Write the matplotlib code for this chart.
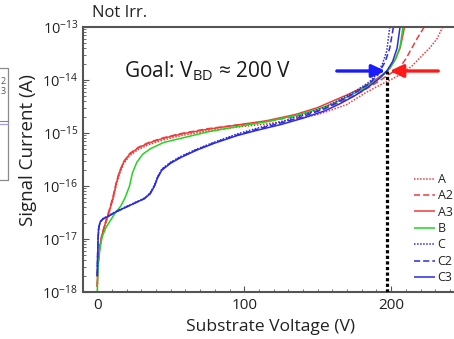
import numpy as np
import matplotlib
matplotlib.use("Agg")
import matplotlib.pyplot as plt
from matplotlib.lines import Line2D

plt.rcParams['font.family'] = ['Open Sans', 'DejaVu Sans']
plt.rcParams['mathtext.fontset'] = 'custom'
plt.rcParams['mathtext.rm'] = 'Open Sans'
plt.rcParams['mathtext.it'] = 'Open Sans:italic'
plt.rcParams['mathtext.bf'] = 'Open Sans:bold'

# --- I-V sweeps: substrate voltage (V) and log10 of signal current (A) ---
v_A = [0, 0.5, 1.5, 3, 5, 7, 9, 11, 13, 15, 18, 22, 28, 35, 45, 57, 75, 95,
       115, 135, 150, 160, 170, 182, 192, 200, 206, 214, 220, 226, 231, 235]
logi_A = [-17.9, -17.5, -17.22, -16.97, -16.77, -16.6, -16.42, -16.22, -15.98,
          -15.79, -15.58, -15.43, -15.31, -15.22, -15.13, -15.05, -14.96, -14.89,
          -14.83, -14.74, -14.65, -14.56, -14.46, -14.25, -14.1, -13.99, -13.9,
          -13.74, -13.57, -13.4, -13.23, -13.0]

v_A2 = [0, 0.5, 1.5, 3, 5, 7, 9, 11, 13, 15, 18, 22, 28, 35, 45, 57, 75, 95,
        115, 135, 150, 160, 170, 180, 190, 200, 206, 210, 214, 218, 220, 222.5]
logi_A2 = [-17.9, -17.48, -17.2, -16.95, -16.74, -16.56, -16.38, -16.17, -15.93,
           -15.74, -15.54, -15.39, -15.27, -15.18, -15.09, -15.01, -14.92, -14.85,
           -14.78, -14.69, -14.58, -14.48, -14.36, -14.22, -14.05, -13.87, -13.76,
           -13.6, -13.4, -13.2, -13.11, -13.0]

v_A3 = [0, 0.5, 1.5, 3, 5, 7, 9, 11, 13, 15, 18, 22, 28, 35, 45, 57, 75, 95,
        115, 135, 150, 160, 170, 180, 188, 194, 199, 203, 206, 208, 209]
logi_A3 = [-17.9, -17.5, -17.2, -16.95, -16.75, -16.58, -16.4, -16.2, -15.95,
           -15.75, -15.55, -15.4, -15.28, -15.19, -15.1, -15.02, -14.93, -14.85,
           -14.77, -14.65, -14.52, -14.4, -14.28, -14.15, -14.02, -13.9, -13.78,
           -13.6, -13.4, -13.15, -13.0]

v_B = [0, 0.5, 1, 2, 3.5, 6, 9, 12, 16, 19, 22, 24, 27, 31, 36, 45, 57, 75,
       95, 115, 135, 150, 160, 170, 180, 188, 194, 199, 203, 206, 208]
logi_B = [-18.05, -17.6, -17.4, -17.15, -16.95, -16.78, -16.65, -16.52, -16.38,
          -16.22, -16.0, -15.75, -15.55, -15.4, -15.3, -15.18, -15.1, -14.98,
          -14.88, -14.79, -14.67, -14.55, -14.45, -14.32, -14.18, -14.04, -13.92,
          -13.78, -13.6, -13.38, -13.0]

v_C = [0, 0.3, 0.6, 1, 2, 4, 7, 12, 18, 25, 32, 36, 39, 41, 44, 50, 57, 68,
       80, 95, 110, 125, 140, 155, 165, 175, 185, 190, 194, 197, 199]
logi_C = [-17.7, -17.3, -17.0, -16.8, -16.67, -16.61, -16.57, -16.49, -16.41,
          -16.32, -16.23, -16.13, -15.98, -15.83, -15.68, -15.55, -15.44, -15.3,
          -15.17, -15.02, -14.9, -14.79, -14.66, -14.51, -14.37, -14.22, -14.04,
          -13.9, -13.7, -13.45, -13.0]

v_C2 = [0, 0.3, 0.6, 1, 2, 4, 7, 12, 18, 25, 32, 36, 39, 41, 44, 50, 57, 68,
        80, 95, 110, 125, 140, 155, 165, 175, 185, 191, 196, 199, 201.5]
logi_C2 = [-17.7, -17.3, -17.0, -16.8, -16.68, -16.62, -16.58, -16.5, -16.42,
           -16.33, -16.24, -16.14, -15.99, -15.84, -15.69, -15.56, -15.45, -15.31,
           -15.18, -15.04, -14.92, -14.81, -14.69, -14.54, -14.4, -14.25, -14.07,
           -13.9, -13.65, -13.4, -13.0]

v_C3 = [0, 0.3, 0.6, 1, 2, 4, 7, 12, 18, 25, 32, 36, 39, 41, 44, 50, 57, 68,
        80, 95, 110, 125, 140, 155, 165, 175, 185, 192, 197, 201, 204, 206]
logi_C3 = [-17.7, -17.3, -17.0, -16.8, -16.68, -16.62, -16.58, -16.5, -16.42,
           -16.33, -16.24, -16.15, -16.0, -15.85, -15.7, -15.57, -15.46, -15.32,
           -15.19, -15.05, -14.94, -14.84, -14.72, -14.58, -14.45, -14.3, -14.12,
           -13.97, -13.83, -13.65, -13.4, -13.0]

series_labels = ['A', 'A2', 'A3', 'B', 'C', 'C2', 'C3']
series_v = [v_A, v_A2, v_A3, v_B, v_C, v_C2, v_C3]
series_logi = [logi_A, logi_A2, logi_A3, logi_B, logi_C, logi_C2, logi_C3]

goal_voltage = 197          # target breakdown marker
goal_level = -13.83         # log10 current where the arrows point

RED = '#f23a3a'
GREEN = '#1fd61f'
BLUE = '#2b2be6'
styles = {
    'A':  dict(color=RED, ls=(0, (1, 1))),
    'A2': dict(color=RED, ls=(0, (4, 2))),
    'A3': dict(color=RED, ls='-'),
    'B':  dict(color=GREEN, ls='-'),
    'C':  dict(color=BLUE, ls=(0, (1, 1))),
    'C2': dict(color=BLUE, ls=(0, (4, 2))),
    'C3': dict(color=BLUE, ls='-'),
}

W, H = 454, 339
fig = plt.figure(figsize=(W / 100, H / 100), dpi=100)

x0, x1 = -10, 250
ax_left, ax_right = 82.5, 82.5 + 1.47 * (x1 - x0)
ax_top, ax_bot = 27, 292
ax = fig.add_axes([ax_left / W, 1 - ax_bot / H,
                   (ax_right - ax_left) / W, (ax_bot - ax_top) / H])

for lab, v, li in zip(series_labels, series_v, series_logi):
    st = styles[lab]
    ax.plot(v, 10.0 ** np.array(li), color=st['color'], linestyle=st['ls'],
            lw=1.1, label=lab, solid_capstyle='butt')

ax.set_yscale('log')
ax.set_xlim(x0, x1)
ax.set_ylim(1e-18, 1e-13)

ax.set_xticks([0, 100, 200])
ax.set_xticks(np.arange(0, 250, 10), minor=True)
ax.set_yticks([10.0 ** e for e in range(-18, -12)])
ax.set_yticklabels(['10$^{%d}$' % e for e in range(-18, -12)])
ax.tick_params(axis='both', which='major', direction='in', length=4,
               width=0.8, color='#555555', labelsize=11, labelcolor='#222222')
ax.tick_params(axis='both', which='minor', direction='in', length=2,
               width=0.6, color='#555555')
ax.tick_params(axis='y', labelsize=10.5, pad=3)
ax.tick_params(axis='x', pad=4)

for side in ('left', 'bottom', 'top'):
    ax.spines[side].set_color('#555555')
    ax.spines[side].set_linewidth(1.5)
ax.spines['right'].set_visible(False)

# goal marker: dotted vertical line and the two arrows
ax.plot([goal_voltage, goal_voltage], [1e-18, 10 ** goal_level], color='black',
        lw=2.3, linestyle=(0, (1, 0.75)), zorder=5)
ax.annotate('', xy=(goal_voltage - 1, 10 ** goal_level),
            xytext=(163, 10 ** goal_level),
            arrowprops=dict(arrowstyle='-|>,head_length=0.8,head_width=0.38',
                            color='#1a1aff', lw=2.4, shrinkA=0, shrinkB=0))
ax.annotate('', xy=(goal_voltage + 2, 10 ** goal_level),
            xytext=(232, 10 ** goal_level),
            arrowprops=dict(arrowstyle='-|>,head_length=0.8,head_width=0.38',
                            color='#ff1a1a', lw=2.4, shrinkA=0, shrinkB=0))

ax.text(18, 10 ** goal_level, r'Goal: V$_{\mathrm{BD}}$ ≈ 200 V', fontsize=15,
        ha='left', va='center', color='#1a1a1a',
        family=['Open Sans', 'DejaVu Sans'])

fig.text(92 / W, 1 - 13 / H, 'Not Irr.', fontsize=12, ha='left', va='center',
         color='#222222')
fig.text(271 / W, 1 - 327 / H, 'Substrate Voltage (V)', fontsize=12.6,
         ha='center', va='center', color='#222222')
fig.text(28 / W, 1 - 150 / H, 'Signal Current (A)', fontsize=13.5, rotation=90,
         ha='center', va='center', color='#222222')

leg = ax.legend(loc='upper left', bbox_to_anchor=(414 / W, 1 - 173 / H),
                bbox_transform=fig.transFigure, frameon=False, fontsize=9,
                handlelength=1.7, handletextpad=0.2, labelspacing=0.27,
                borderpad=0, borderaxespad=0)
for t in leg.get_texts():
    t.set_color('#222222')

# edge of the neighbouring panel's legend box
fig.add_artist(Line2D([0, 8 / W, 8 / W, 0],
                      [1 - 68 / H, 1 - 68 / H, 1 - 180 / H, 1 - 180 / H],
                      transform=fig.transFigure, color='#8a8a8a', lw=0.9))
fig.text(0.5 / W, 1 - 81 / H, '2', fontsize=6.5, ha='left', va='center',
         color='#555555')
fig.text(0.5 / W, 1 - 91 / H, '3', fontsize=6.5, ha='left', va='center',
         color='#555555')
for yy, c in ((121, '#7a7ae8'), (123.5, '#9a9af0')):
    fig.add_artist(Line2D([0, 8 / W], [1 - yy / H, 1 - yy / H],
                          transform=fig.transFigure, color=c, lw=0.8))

fig.savefig('out.png', dpi=100)
